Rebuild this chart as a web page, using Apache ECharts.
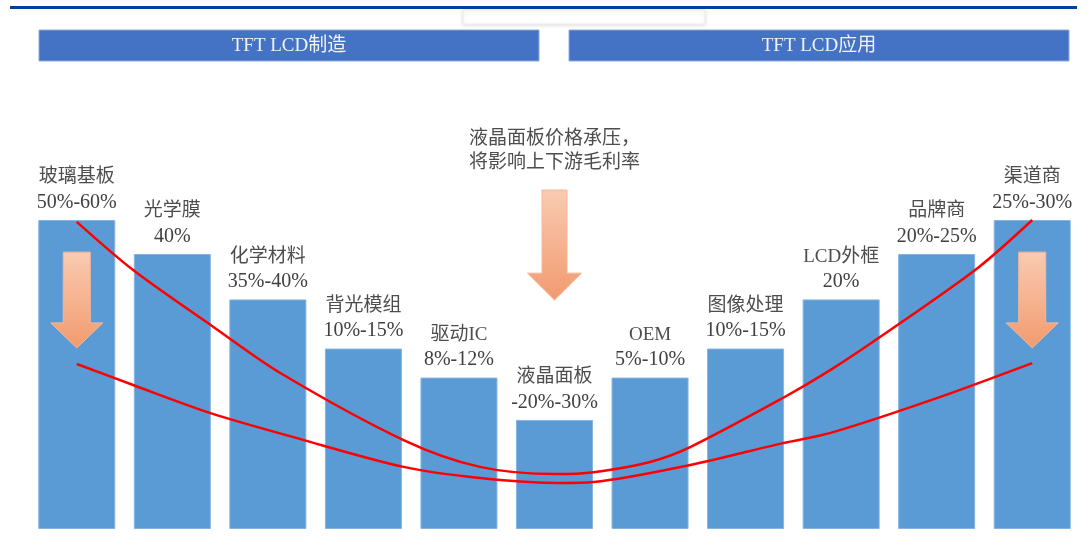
<!DOCTYPE html>
<html>
<head>
<meta charset="utf-8">
<script src="https://cdn.jsdelivr.net/npm/echarts@6/dist/echarts.min.js"></script>
<style>
  html, body { margin: 0; padding: 0; background: #ffffff; }
  #chart { width: 1088px; height: 545px; }
</style>
</head>
<body>
<div id="chart"></div>
<script>
// Segments of the TFT LCD industry chain, upstream to downstream
const categories = ['玻璃基板', '光学膜', '化学材料', '背光模组', '驱动IC', '液晶面板', 'OEM', '图像处理', 'LCD外框', '品牌商', '渠道商'];
// Gross margin range of each segment
const marginRanges = ['50%-60%', '40%', '35%-40%', '10%-15%', '8%-12%', '-20%-30%', '5%-10%', '10%-15%', '20%', '20%-25%', '25%-30%'];
// Relative bar height (smile-curve level) of each segment
const barLevels = [100, 89, 74.3, 58.4, 49, 35.3, 49, 58.4, 74.3, 89, 100];
// Smile curves as [position along the chain, level]; position 0 = first segment, 10 = last
const upperCurve = [[0, 99.4], [0.59, 83.8], [1.43, 65.4], [2.13, 50.5], [3.42, 28.8], [4.22, 20.1], [5.01, 17.8],
  [5.41, 18.4], [6.0, 21.7], [6.42, 26.5], [7.39, 42.4], [7.89, 51.5], [8.41, 62.2], [9.43, 84.5], [10, 100]];
const lowerCurve = [[0, 53.4], [0.59, 46.6], [1.4, 37.5], [2.34, 29.1], [3.42, 20.1], [4.22, 16.5], [5.06, 14.9],
  [5.41, 15.2], [6.42, 20.7], [7.39, 27.8], [7.89, 31.1], [8.94, 41.7], [10, 53.7]];
// Section headers and the note above the panel segment
const sectionTitles = ['TFT LCD制造', 'TFT LCD应用'];
const noteLines = ['液晶面板价格承压，', '将影响上下游毛利率'];

const labelFont = '"Liberation Serif", "Noto Sans CJK SC", serif';

const chart = echarts.init(document.getElementById('chart'), null, { renderer: 'canvas' });

const curveStyle = { color: '#ff0000', width: 2.5 };

const option = {
  animation: false,
  backgroundColor: '#ffffff',
  grid: { left: 29, right: 8, top: 220, bottom: 16 },
  xAxis: [
    { type: 'category', data: categories, show: false },
    // continuous axis spanning the same category bands, for the curves
    { type: 'value', min: -0.5, max: 10.5, show: false }
  ],
  yAxis: {
    type: 'value',
    min: 0,
    max: 100,
    show: false
  },
  series: [
    {
      type: 'bar',
      data: barLevels,
      barCategoryGap: '19.4%',
      itemStyle: { color: '#5b9bd5', borderColor: '#86b4e0', borderWidth: 1 },
      label: {
        show: true,
        position: 'top',
        distance: 5,
        formatter: (p) => '{n|' + categories[p.dataIndex] + '}\n{v|' + marginRanges[p.dataIndex] + '}',
        rich: {
          n: { fontFamily: labelFont, fontSize: 19, color: '#4d4d4d', lineHeight: 25 },
          v: { fontFamily: labelFont, fontSize: 20, color: '#404040', lineHeight: 25 }
        }
      },
      z: 2
    },
    {
      type: 'line',
      xAxisIndex: 1,
      data: upperCurve,
      smooth: 0.3,
      symbol: 'none',
      lineStyle: curveStyle,
      z: 3
    },
    {
      type: 'line',
      xAxisIndex: 1,
      data: lowerCurve,
      smooth: 0.3,
      symbol: 'none',
      lineStyle: curveStyle,
      z: 3
    }
  ]
};

chart.setOption(option);

// Down arrow with a peach gradient, anchored on a category and value range
function arrow(catIndex, vTop, vNeck, vTip, shaftHalf, headHalf) {
  const top = chart.convertToPixel({ xAxisIndex: 0, yAxisIndex: 0 }, [catIndex, vTop]);
  const neck = chart.convertToPixel({ xAxisIndex: 0, yAxisIndex: 0 }, [catIndex, vNeck]);
  const tip = chart.convertToPixel({ xAxisIndex: 0, yAxisIndex: 0 }, [catIndex, vTip]);
  const cx = top[0];
  return {
    type: 'polygon',
    z: 10,
    shape: {
      points: [
        [cx - shaftHalf, top[1]], [cx + shaftHalf, top[1]],
        [cx + shaftHalf, neck[1]], [cx + headHalf, neck[1]],
        [cx, tip[1]],
        [cx - headHalf, neck[1]], [cx - shaftHalf, neck[1]]
      ]
    },
    style: {
      fill: new echarts.graphic.LinearGradient(0, 0, 0, 1, [
        { offset: 0, color: '#f9cbb2' },
        { offset: 1, color: '#f29a6e' }
      ]),
      stroke: '#f6b798',
      lineWidth: 1
    }
  };
}

const midTop = chart.convertToPixel({ xAxisIndex: 0, yAxisIndex: 0 }, [5, 100]);
const midX = midTop[0];

const graphics = [
  // top rule
  { type: 'rect', shape: { x: 10, y: 6, width: 1067, height: 3 }, style: { fill: '#00409a' }, z: 5 },
  // faint tab below the rule
  {
    type: 'rect', shape: { x: 463, y: 10, width: 242, height: 14 },
    style: { fill: '#ffffff', stroke: '#ececec', lineWidth: 1, shadowBlur: 4, shadowColor: 'rgba(0,0,0,0.12)', shadowOffsetY: 1 },
    z: 4
  },
  // section header bars
  { type: 'rect', shape: { x: 39, y: 30, width: 500, height: 31 }, style: { fill: '#4472c4', stroke: '#8eaadb', lineWidth: 1 }, z: 5 },
  { type: 'rect', shape: { x: 569, y: 30, width: 500, height: 31 }, style: { fill: '#4472c4', stroke: '#8eaadb', lineWidth: 1 }, z: 5 },
  {
    type: 'text', x: 289, y: 46, z: 6,
    style: { text: sectionTitles[0], fill: '#f2f2f2', font: '19px ' + labelFont, align: 'center', verticalAlign: 'middle' }
  },
  {
    type: 'text', x: 819, y: 46, z: 6,
    style: { text: sectionTitles[1], fill: '#f2f2f2', font: '19px ' + labelFont, align: 'center', verticalAlign: 'middle' }
  },
  // note above the panel segment
  {
    type: 'text', x: midX, y: 127, z: 6,
    style: {
      text: noteLines.join('\n'), fill: '#4d4d4d', font: '19px ' + labelFont,
      align: 'center', verticalAlign: 'top', lineHeight: 24
    }
  },
  arrow(0, 89.6, 66.7, 58.6, 13.5, 26),
  arrow(10, 89.6, 66.7, 58.6, 13.5, 26),
  arrow(5, 109.7, 82.8, 74.1, 12.5, 27)
];

chart.setOption({ graphic: graphics });
</script>
</body>
</html>
